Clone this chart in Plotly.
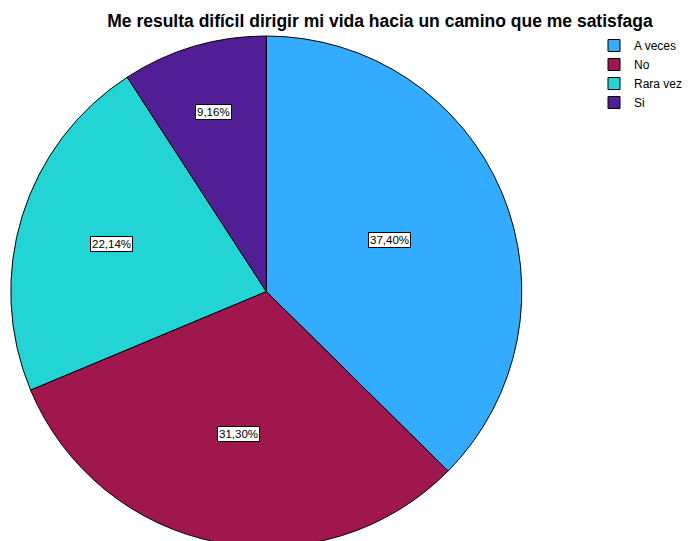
import math
import plotly.graph_objects as go

categories = ["A veces", "No", "Rara vez", "Si"]
percentages = [37.40, 31.30, 22.14, 9.16]
label_texts = ["37,40%", "31,30%", "22,14%", "9,16%"]
colors = ["#33acff", "#a0174d", "#22d4d4", "#521e96"]

W, H = 692, 541
# pie placement (paper pixels)
cx_px, cy_px, radius_px = 258.3, 283.5, 255.5

fig = go.Figure()
fig.add_trace(go.Pie(
    labels=categories,
    values=percentages,
    sort=False,
    direction="clockwise",
    rotation=0,
    marker=dict(colors=colors, line=dict(color="black", width=1)),
    textinfo="none",
    hoverinfo="label+percent",
    domain=dict(x=[(cx_px - radius_px) / W, (cx_px + radius_px) / W],
                y=[1 - (cy_px + radius_px) / H, 1 - (cy_px - radius_px) / H]),
))

# value labels placed from the data angles
annotations = []
cum = 0.0
total = sum(percentages)
for pct, txt in zip(percentages, label_texts):
    mid = (cum + pct / 2) / total * 2 * math.pi
    cum += pct
    frac = 0.80 - 0.0074 * pct
    x_px = cx_px + frac * radius_px * math.sin(mid)
    y_px = cy_px - frac * radius_px * math.cos(mid)
    annotations.append(dict(
        x=x_px / W, y=1 - y_px / H, xref="paper", yref="paper",
        xanchor="center", yanchor="middle",
        text=txt, showarrow=False,
        font=dict(family="Liberation Sans, Arial", size=11.5, color="black"),
        bgcolor="white", bordercolor="black", borderwidth=1, borderpad=1,
    ))

fig.update_layout(
    width=W, height=H,
    margin=dict(l=0, r=0, t=0, b=0, autoexpand=False),
    paper_bgcolor="white",
    plot_bgcolor="white",
    title=dict(
        text="<b>Me resulta difícil dirigir mi vida hacia un camino que me satisfaga</b>",
        x=372 / W, xanchor="center", y=1 - 13 / H, yanchor="middle",
        xref="container", yref="container",
        font=dict(family="Liberation Sans, Arial", size=17.5, color="black"),
    ),
    legend=dict(
        x=586 / W, y=1 - 23 / H, xanchor="left", yanchor="top",
        font=dict(family="Liberation Sans, Arial", size=12, color="black"),
        itemwidth=30, tracegroupgap=0,
        bgcolor="rgba(0,0,0,0)",
    ),
    annotations=annotations,
)

fig.write_html("out.html")
